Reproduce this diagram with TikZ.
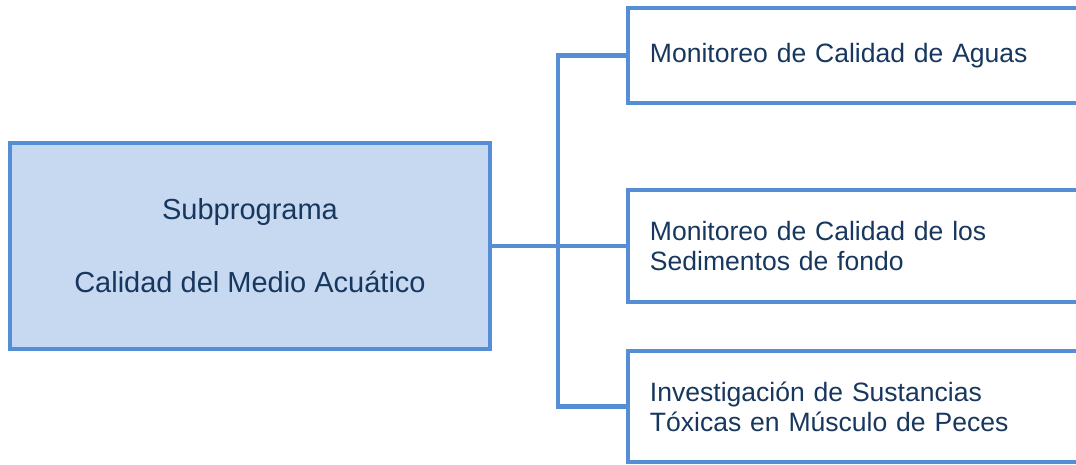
\documentclass[tikz,border=0pt]{standalone}
\usepackage{fontspec}
\setmainfont{Liberation Sans}
\definecolor{boxline}{HTML}{558ED5}
\definecolor{boxfill}{HTML}{C6D9F1}
\definecolor{boxtext}{HTML}{17375E}

\begin{document}
\begin{tikzpicture}[
    link/.style={draw=boxline, line width=2.8pt},
    mainbox/.style={draw=boxline, fill=boxfill, line width=2.8pt, text=boxtext,
        minimum width=9.6cm, minimum height=4.12cm, align=center,
        font=\fontsize{16.5}{19}\selectfont},
    subbox/.style={draw=boxline, fill=white, line width=2.8pt, text=boxtext,
        text width=8.6cm, inner xsep=0.44cm, align=left, anchor=west,
        font=\fontsize{15.1}{17}\selectfont}]
    \clip (0,0) rectangle (21.52,9.3);
    % main block
    \node[mainbox] (main) at (5,4.38) {Subprograma\\[0.79cm]Calidad del Medio Acuático};
    % branches
    \node[subbox, minimum height=1.9cm] (aguas) at (12.51,8.19) {Monitoreo de Calidad de Aguas};
    \node[subbox, minimum height=2.24cm] (sedim) at (12.51,4.38) {Monitoreo de Calidad de los\\Sedimentos de fondo};
    \node[subbox, minimum height=2.22cm] (peces) at (12.51,1.17) {Investigación de Sustancias\\Tóxicas en Músculo de Peces};
    \coordinate (bus) at (11.16,4.38);
    \draw[link] (main.east) -- (sedim.west);
    \draw[link] (aguas.west) -| (bus |- peces.west) -- (peces.west);
\end{tikzpicture}
\end{document}
